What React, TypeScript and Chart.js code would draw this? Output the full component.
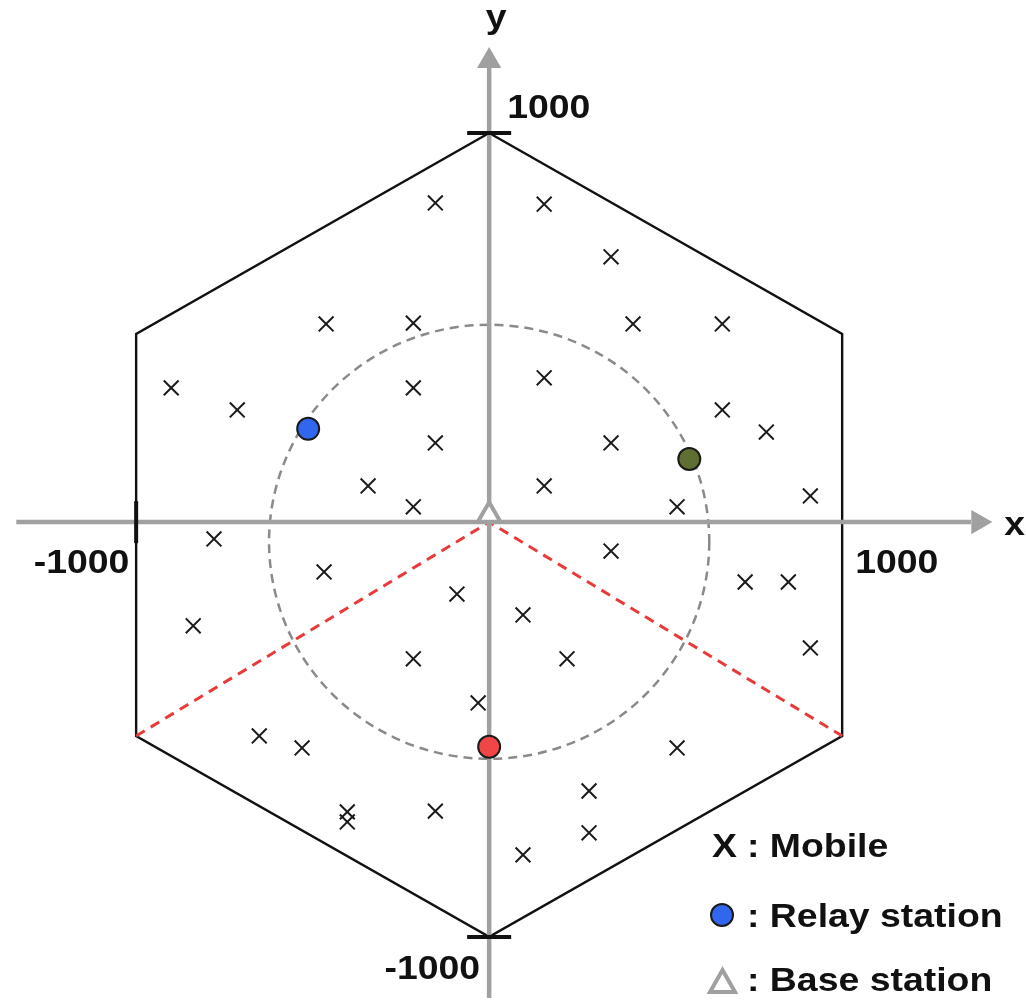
import React, { useEffect, useRef } from 'react';
import { Chart, registerables } from 'chart.js';

Chart.register(...registerables);

// Visible window of the cell plane (metres)
const viewX = [-1200, 1317];
const viewY = [-1157, 1331];

// Hexagonal cell, circumradius 1000, closed outline
const hexX = [0, 866, 866, 0, -866, -866, 0];
const hexY = [1000, 500, -500, -1000, -500, 500, 1000];

// Sector borders from the base station to the two lower vertices
const sectorX = [-866, 0, 866];
const sectorY = [-500, 32, -500];

// Relay placement ring
const ringCenterX = 0;
const ringCenterY = -17;
const ringRadius = 540;

// Mobile users
const mobileX = [
  -132, -400, -186, -780, -186, -618, -132, -297, -186,
  135, 299, 353, 572, 135, 572, 680, 299, 135, 461, 788,
  -675, -405, -79, -726, -186, -27, -564, -459, -348, -348, -132,
  299, 628, 734, 83, 788, 191, 461, 245, 245, 83,
];
const mobileY = [
  826, 525, 527, 366, 366, 311, 229, 122, 70,
  823, 692, 525, 525, 391, 311, 256, 229, 122, 70, 97,
  -10, -92, -147, -226, -308, -418, -500, -530, -689, -714, -687,
  -40, -117, -117, -199, -281, -308, -530, -637, -741, -796,
];

// Relay stations
const relayX = [-444, 491, 0];
const relayY = [264, 189, -527];
const relayColors = ['#3366ee', '#5f6e31', '#f04646'];

// Base station
const baseX = [0];
const baseY = [49];

// Coordinate axes (they cross at the base station)
const axisLevel = 32;
const xAxisSpan = [-1160, 1182];
const yAxisSpan = [-1152, 1162];
const xArrowAt = 1200;
const yArrowAt = 1179;

// Tick marks and their labels
const yTickValues = [1000, -1000];
const xTickValues = [-866];
const xTickLabelValues = [-1000, 1000];
const xTickLabels = ['-1000', '1000'];
const yTickLabels = ['1000', '-1000'];

// Legend entries
const legendLabels = ['Mobile', 'Relay station', 'Base station'];

const AXIS_GREY = '#a0a0a0';
const FONT = 'bold 34px "Liberation Sans", Arial, sans-serif';
const STRETCH = 1.1;

function drawText(
  ctx: CanvasRenderingContext2D,
  text: string,
  x: number,
  y: number,
  align: CanvasTextAlign = 'left',
) {
  ctx.save();
  ctx.translate(x, y);
  ctx.scale(STRETCH, 1);
  ctx.font = FONT;
  ctx.fillStyle = '#111';
  ctx.textAlign = align;
  ctx.textBaseline = 'alphabetic';
  ctx.fillText(text, 0, 0);
  ctx.restore();
}

// Dashed relay ring, drawn under every dataset
const ringPlugin = {
  id: 'relayRing',
  beforeDatasetsDraw(chart: any) {
    const { ctx, scales } = chart;
    const sx = scales.x;
    const sy = scales.y;
    const cx = sx.getPixelForValue(ringCenterX);
    const cy = sy.getPixelForValue(ringCenterY);
    const rx = sx.getPixelForValue(ringCenterX + ringRadius) - cx;
    const ry = cy - sy.getPixelForValue(ringCenterY + ringRadius);
    ctx.save();
    ctx.beginPath();
    ctx.ellipse(cx, cy, rx, ry, 0, 0, Math.PI * 2);
    ctx.setLineDash([9, 6]);
    ctx.lineWidth = 2.5;
    ctx.strokeStyle = '#8a8a8a';
    ctx.stroke();
    ctx.restore();
  },
};

// Axis names, tick labels and the legend
const labelPlugin = {
  id: 'cellLabels',
  afterDatasetsDraw(chart: any) {
    const { ctx, scales } = chart;
    const sx = scales.x;
    const sy = scales.y;
    const ax = sx.getPixelForValue(0);
    const ay = sy.getPixelForValue(axisLevel);

    drawText(ctx, 'y', ax + 7, sy.getPixelForValue(yArrowAt) - 33, 'center');
    drawText(ctx, 'x', sx.getPixelForValue(xArrowAt) + 26, ay + 13, 'left');

    xTickLabelValues.forEach((v, i) => {
      drawText(ctx, xTickLabels[i], sx.getPixelForValue(v), ay + 51, 'center');
    });
    drawText(ctx, yTickLabels[0], ax + 18, sy.getPixelForValue(yTickValues[0]) - 15, 'left');
    drawText(ctx, yTickLabels[1], ax - 9, sy.getPixelForValue(yTickValues[1]) + 42, 'right');

    // legend
    const lx = 712;
    const rows = [857, 927, 991];
    drawText(ctx, 'X', lx, rows[0], 'left');

    ctx.save();
    ctx.beginPath();
    ctx.arc(lx + 10, rows[1] - 12, 11, 0, Math.PI * 2);
    ctx.fillStyle = relayColors[0];
    ctx.fill();
    ctx.lineWidth = 2;
    ctx.strokeStyle = '#1a1a1a';
    ctx.stroke();

    ctx.beginPath();
    ctx.moveTo(lx + 10.5, rows[2] - 21);
    ctx.lineTo(lx + 23, rows[2] + 1);
    ctx.lineTo(lx - 2, rows[2] + 1);
    ctx.closePath();
    ctx.fillStyle = '#fff';
    ctx.fill();
    ctx.lineWidth = 4;
    ctx.lineJoin = 'miter';
    ctx.strokeStyle = AXIS_GREY;
    ctx.stroke();
    ctx.restore();

    legendLabels.forEach((t, i) => {
      drawText(ctx, ': ' + t, lx + 35, rows[i], 'left');
    });
  },
};

const toPoints = (xs: number[], ys: number[]) => xs.map((x, i) => ({ x, y: ys[i] }));

export default function App() {
  const canvasRef = useRef<HTMLCanvasElement | null>(null);

  useEffect(() => {
    const canvas = canvasRef.current;
    if (!canvas) return;

    const line = (pts: { x: number; y: number }[], color: string, width: number, dash: number[], order: number) => ({
      type: 'scatter' as const,
      data: pts,
      showLine: true,
      fill: false,
      tension: 0,
      borderColor: color,
      borderWidth: width,
      borderDash: dash,
      pointRadius: 0,
      pointHoverRadius: 0,
      clip: false,
      order,
    });

    const chart = new Chart(canvas, {
      type: 'scatter',
      data: {
        datasets: [
          line(toPoints(hexX, hexY), '#111', 2.4, [], 9),
          line(toPoints(sectorX, sectorY), '#e83a3a', 3, [10, 7], 8),
          line(toPoints(xAxisSpan, [axisLevel, axisLevel]), AXIS_GREY, 4.5, [], 7),
          line(toPoints([0, 0], yAxisSpan), AXIS_GREY, 4.5, [], 7),
          {
            // arrow heads
            data: [
              { x: xArrowAt, y: axisLevel },
              { x: 0, y: yArrowAt },
            ],
            pointStyle: 'triangle',
            pointRadius: 14,
            pointRotation: [90, 0],
            backgroundColor: AXIS_GREY,
            borderWidth: 0,
            clip: false,
            order: 6,
          },
          {
            // tick marks on the y axis
            data: toPoints([0, 0], yTickValues),
            pointStyle: 'line',
            pointRadius: 22,
            borderColor: '#111',
            borderWidth: 4,
            clip: false,
            order: 5,
          },
          {
            // tick mark on the x axis
            data: toPoints(xTickValues, [axisLevel]),
            pointStyle: 'line',
            pointRotation: 90,
            pointRadius: 21,
            borderColor: '#111',
            borderWidth: 4,
            clip: false,
            order: 5,
          },
          {
            label: 'Mobile',
            data: toPoints(mobileX, mobileY),
            pointStyle: 'crossRot',
            pointRadius: 10.5,
            borderColor: '#1a1a1a',
            borderWidth: 2,
            clip: false,
            order: 3,
          },
          {
            label: 'Relay station',
            data: toPoints(relayX, relayY),
            pointStyle: 'circle',
            pointRadius: 11,
            backgroundColor: relayColors,
            borderColor: '#1a1a1a',
            borderWidth: 2,
            clip: false,
            order: 2,
          },
          {
            label: 'Base station',
            data: toPoints(baseX, baseY),
            pointStyle: 'triangle',
            pointRadius: 13,
            backgroundColor: '#ffffff',
            borderColor: AXIS_GREY,
            borderWidth: 4,
            clip: false,
            order: 1,
          },
        ] as any,
      },
      options: {
        responsive: false,
        animation: false,
        events: [],
        layout: { padding: 0, autoPadding: false },
        plugins: {
          legend: { display: false },
          tooltip: { enabled: false },
        },
        scales: {
          x: { type: 'linear', min: viewX[0], max: viewX[1], display: false },
          y: { type: 'linear', min: viewY[0], max: viewY[1], display: false },
        },
      },
      plugins: [ringPlugin, labelPlugin],
    });

    return () => chart.destroy();
  }, []);

  return (
    <div style={{ position: 'fixed', left: 0, top: 0, width: 1026, height: 1000, background: '#fff' }}>
      <canvas ref={canvasRef} width={1026} height={1000} style={{ width: 1026, height: 1000, display: 'block' }} />
    </div>
  );
}
